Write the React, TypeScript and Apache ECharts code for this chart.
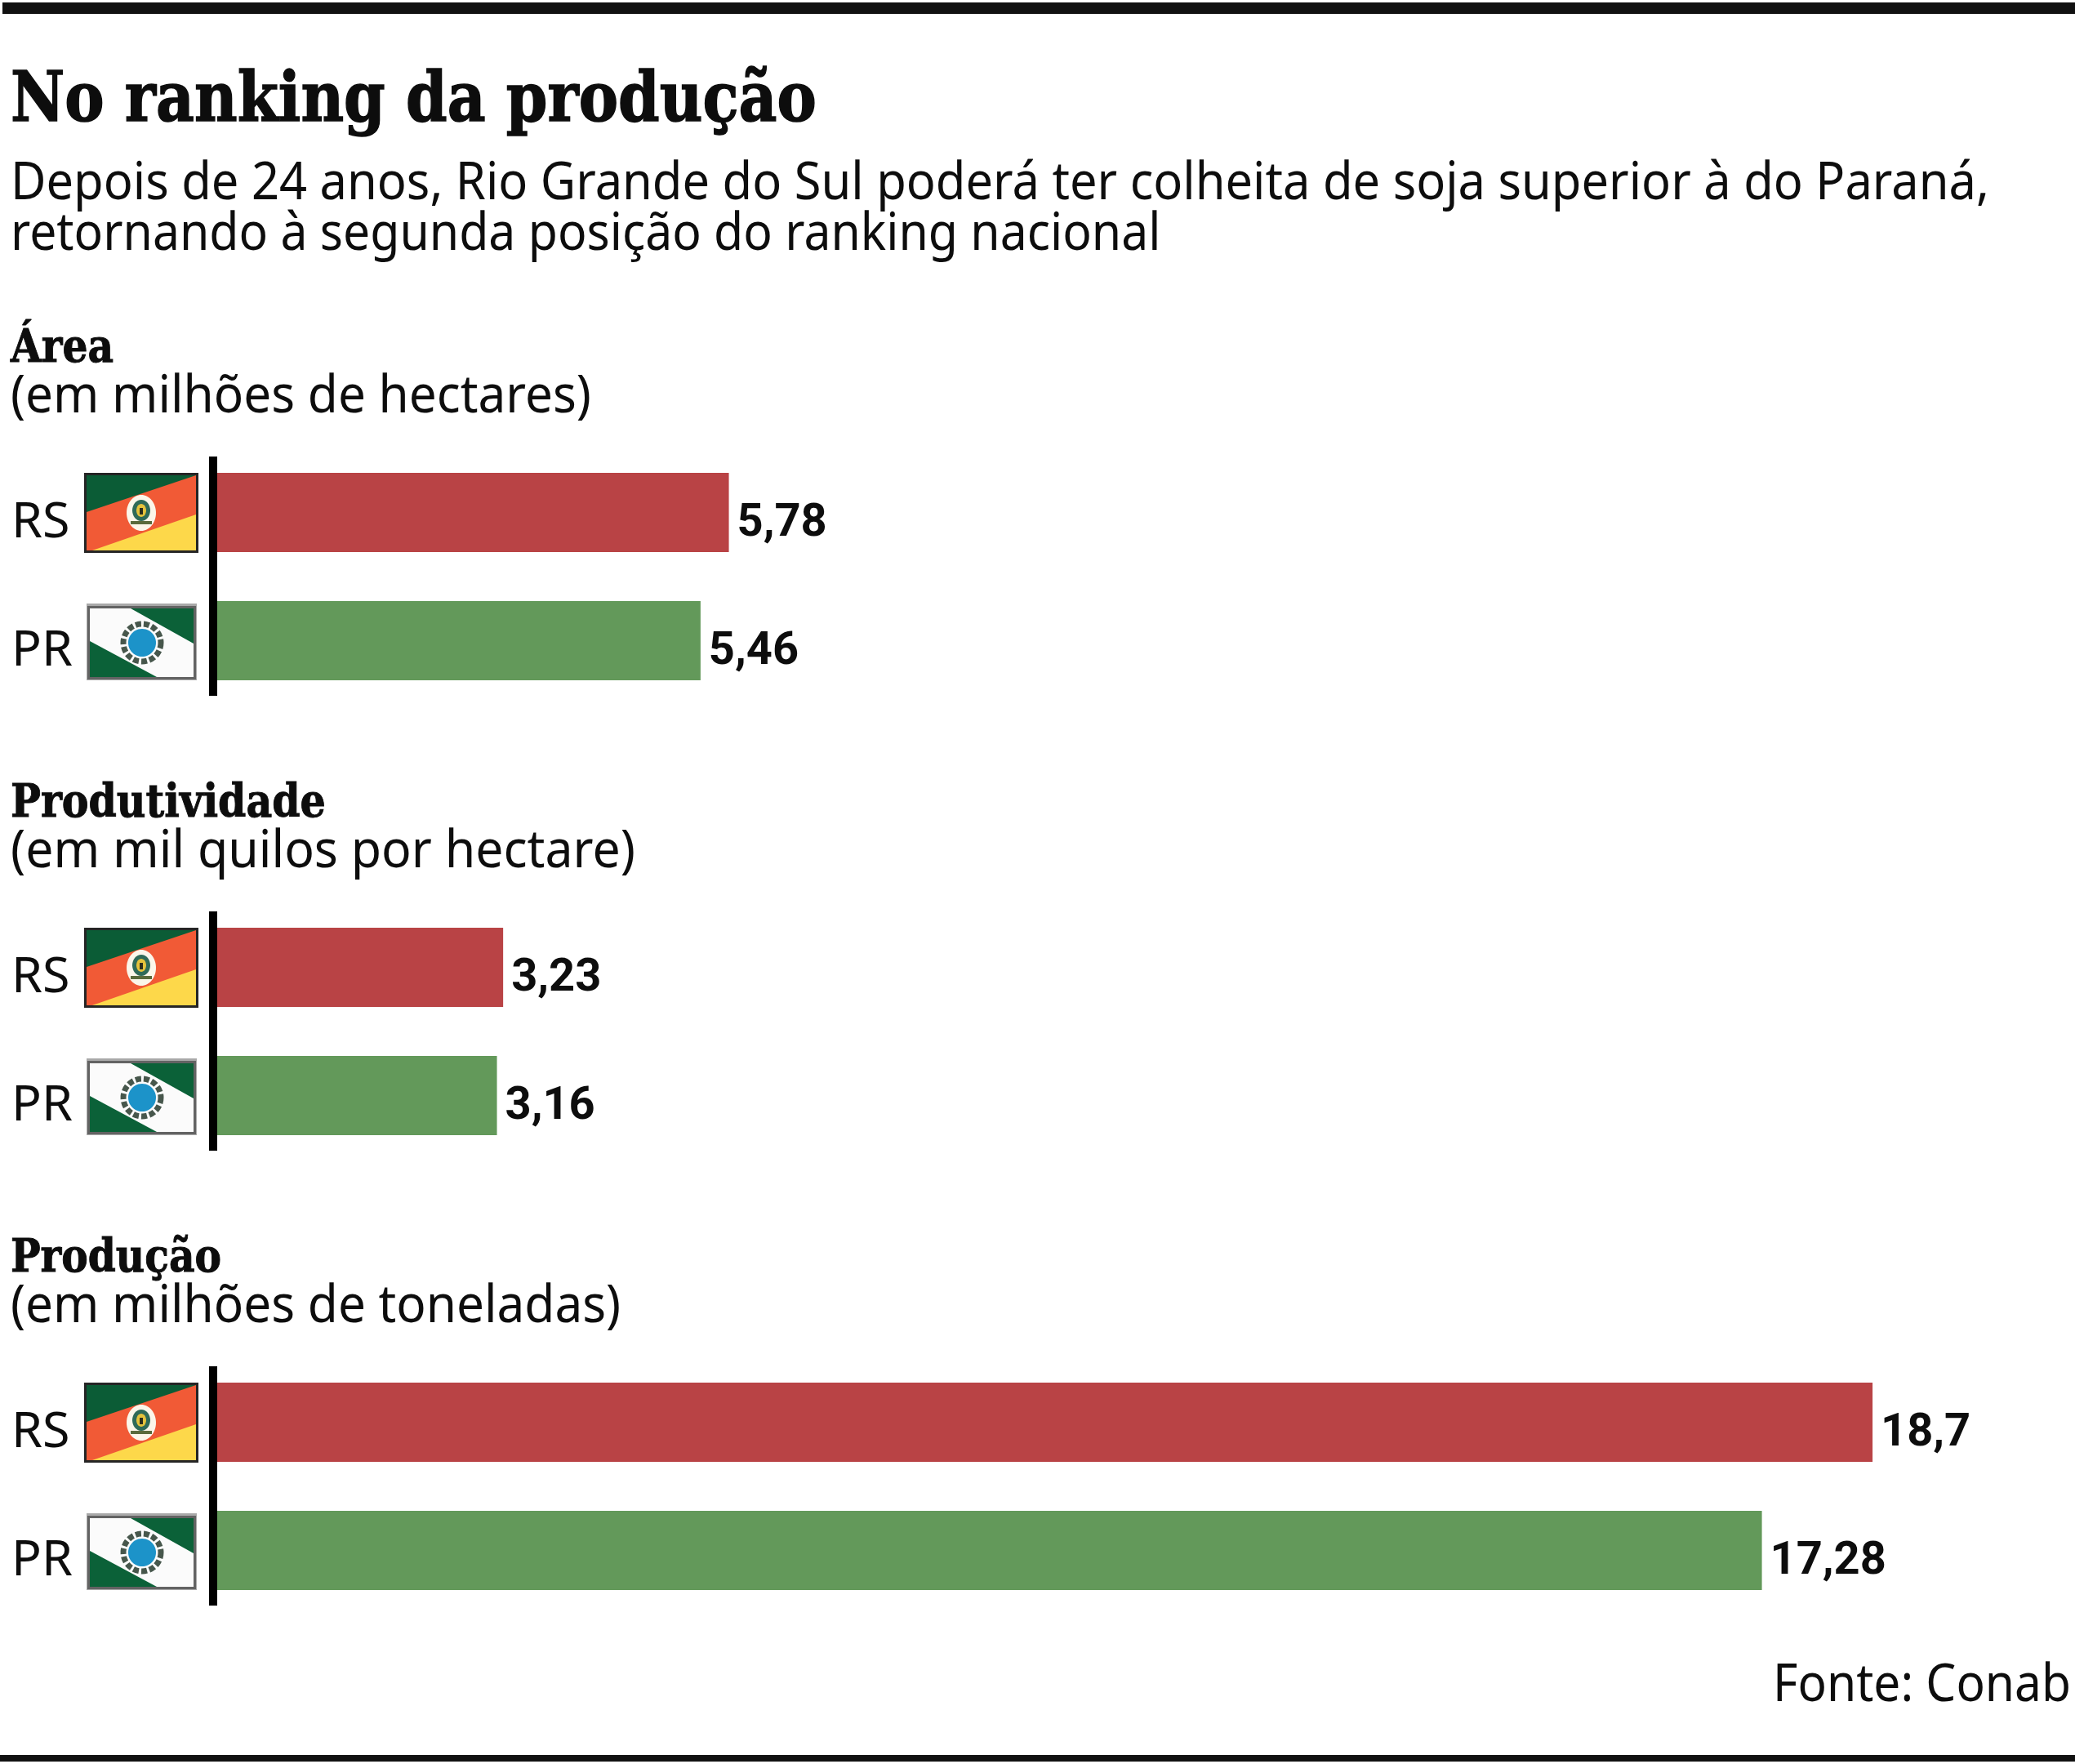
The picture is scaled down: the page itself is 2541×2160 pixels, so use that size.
import React, { useEffect, useRef } from "react";
import * as echarts from "echarts";

const states = ["RS", "PR"];
const areaValues = [5.78, 5.46];
const productivityValues = [3.23, 3.16];
// Bar lengths as measured in the picture; the printed label for PR is 17,28.
const productionValues = [18.7, 17.45];
const areaLabels = ["5,78", "5,46"];
const productivityLabels = ["3,23", "3,16"];
const productionLabels = ["18,7", "17,28"];
const panelTitles = ["Área", "Produtividade", "Produção"];
const panelUnits = ["(em milhões de hectares)", "(em mil quilos por hectare)", "(em milhões de toneladas)"];
const titleText = "No ranking da produção";
const subtitleLines = [
  "Depois de 24 anos, Rio Grande do Sul poderá ter colheita de soja superior à do Paraná,",
  "retornando à segunda posição do ranking nacional",
];
const sourceText = "Fonte: Conab";

const INK = "#0d0d0d";
const RED = "#b94345";
const GREEN = "#63995a";
const SANS = '"Noto Sans"';
const SERIF = '"DejaVu Serif"';
const PANEL_STEP = [0, 557, 1114];

const ctx = document.createElement("canvas").getContext("2d") as CanvasRenderingContext2D;

function fitText(text: string, x: number, baseline: number, size: number, family: string, weight: string, width: number, right = false, heavy = 0) {
  ctx.font = `${weight} ${size}px ${family}`;
  const sx = width / ctx.measureText(text).width;
  return {
    type: "text",
    x,
    y: baseline,
    scaleX: sx,
    silent: true,
    style: {
      text,
      fontSize: size,
      fontFamily: family,
      fontWeight: weight,
      fill: INK,
      stroke: heavy ? INK : undefined,
      lineWidth: heavy,
      align: right ? "right" : "left",
      verticalAlign: "bottom",
      lineHeight: size,
    },
  };
}

function poly(points: number[][], fill: string) {
  return { type: "polygon", shape: { points }, style: { fill } };
}

function rsFlag(y: number) {
  return {
    type: "group",
    x: 103,
    y,
    silent: true,
    children: [
      { type: "rect", shape: { x: 0, y: 0, width: 140, height: 98 }, style: { fill: "#252525" } },
      { type: "rect", shape: { x: 3, y: 3, width: 134, height: 92 }, style: { fill: "#f15a36" } },
      poly([[3, 3], [137, 3], [137, 3], [3, 48]], "#0b5c36"),
      poly([[137, 51], [137, 95], [10, 95]], "#fdd84a"),
      { type: "ellipse", shape: { cx: 70, cy: 49, rx: 18, ry: 22 }, style: { fill: "#fbf6ea" } },
      { type: "ellipse", shape: { cx: 70, cy: 46, rx: 11, ry: 13 }, style: { fill: "#2f6a58" } },
      { type: "ellipse", shape: { cx: 70, cy: 46, rx: 6, ry: 8 }, style: { fill: "#e4c23c" } },
      { type: "rect", shape: { x: 68, y: 43, width: 4, height: 8 }, style: { fill: "#2d2d1c" } },
      { type: "rect", shape: { x: 57, y: 59, width: 26, height: 4 }, style: { fill: "#5a6a3c" } },
    ],
  };
}

function prFlag(y: number) {
  return {
    type: "group",
    x: 106,
    y,
    silent: true,
    children: [
      { type: "rect", shape: { x: 0, y: 0, width: 135, height: 94 }, style: { fill: "#a9a9a9" } },
      { type: "rect", shape: { x: 1, y: 3, width: 133, height: 90 }, style: { fill: "#636363" } },
      { type: "rect", shape: { x: 4, y: 6, width: 127, height: 84 }, style: { fill: "#fbfbfb" } },
      poly([[54, 6], [131, 6], [131, 49]], "#0b6138"),
      poly([[4, 46], [4, 90], [86, 90]], "#0b6138"),
      { type: "circle", shape: { cx: 68, cy: 48, r: 23 }, style: { fill: "none", stroke: "#47574c", lineWidth: 7, lineDash: [7, 3] } },
      { type: "circle", shape: { cx: 68, cy: 48, r: 17 }, style: { fill: "#1c93c9" } },
    ],
  };
}

function panelGrid(i: number) {
  return { left: 266, width: 2168, top: 549 + PANEL_STEP[i], height: 314, containLabel: false };
}

function panelSeries(i: number, values: number[], labels: string[]) {
  return {
    type: "bar",
    xAxisIndex: i,
    yAxisIndex: i,
    barWidth: 97,
    silent: true,
    data: values.map((value, k) => ({ value, itemStyle: { color: k === 0 ? RED : GREEN } })),
    label: {
      show: true,
      position: "right",
      distance: 10,
      offset: [0, 9],
      formatter: (p: any) => labels[p.dataIndex],
      fontFamily: "Roboto",
      fontWeight: "bold",
      fontSize: 56,
      color: INK,
    },
  };
}

export default function App() {
  const ref = useRef<HTMLDivElement>(null);
  useEffect(() => {
    const chart = echarts.init(ref.current!, undefined, { renderer: "svg" });
    const idx = [0, 1, 2];
    const titleWidths = [126, 386, 258];
    const unitWidths = [711, 765, 747];
    chart.setOption({
      animation: false,
      backgroundColor: "#ffffff",
      grid: idx.map(panelGrid),
      xAxis: idx.map((i) => ({ type: "value", gridIndex: i, min: 0, max: 20, show: false })),
      yAxis: idx.map((i) => ({
        type: "category",
        gridIndex: i,
        inverse: true,
        data: states,
        axisLine: { show: false },
        axisTick: { show: false },
        axisLabel: {
          margin: 252,
          align: "left",
          verticalAlign: "top",
          lineHeight: 14,
          fontFamily: SANS,
          fontSize: 61,
          color: INK,
        },
      })),
      series: [
        panelSeries(0, areaValues, areaLabels),
        panelSeries(1, productivityValues, productivityLabels),
        panelSeries(2, productionValues, productionLabels),
      ],
      graphic: [
        { type: "rect", silent: true, shape: { x: 3, y: 3, width: 2538, height: 14 }, style: { fill: "#111" } },
        { type: "rect", silent: true, shape: { x: 0, y: 2149, width: 2541, height: 8 }, style: { fill: "#111" } },
        fitText(titleText, 13, 161, 84, SERIF, "bold", 987, false, 1.5),
        fitText(subtitleLines[0], 13, 251, 64, SANS, "normal", 2423),
        fitText(subtitleLines[1], 13, 313, 64, SANS, "normal", 1408),
        ...idx.flatMap((i) => [
          fitText(panelTitles[i], 13, 451 + PANEL_STEP[i], 56, SERIF, "bold", titleWidths[i], false, 1),
          fitText(panelUnits[i], 13, 512 + PANEL_STEP[i], 64, SANS, "normal", unitWidths[i]),
          { type: "rect", silent: true, shape: { x: 256, y: 559 + PANEL_STEP[i], width: 10, height: 293 }, style: { fill: "#000" } },
          rsFlag(579 + PANEL_STEP[i]),
          prFlag(739 + PANEL_STEP[i]),
        ]),
        fitText(sourceText, 2536, 2090, 64, SANS, "normal", 365, true),
      ],
    });
    return () => chart.dispose();
  }, []);
  return <div ref={ref} style={{ position: "absolute", left: 0, top: 0, width: 2541, height: 2160 }} />;
}
